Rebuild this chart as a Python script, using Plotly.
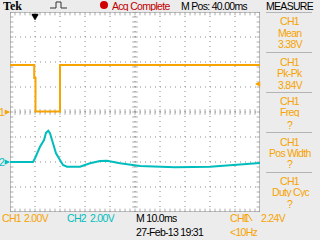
import numpy as np
import plotly.graph_objects as go

# ---- data (time in ms, 10 ms/div; volts) ----
ch1_t = [0, 9.7, 9.7, 10.2, 10.2, 20.0, 20.0, 100]
ch1_v = [3.76, 3.76, 2.72, 2.72, 0.04, 0.04, 3.76, 3.76]

ch2_t = [0, 9.2, 10.0, 12.0, 13.6, 14.4, 15.3, 16.0, 17.2, 18.4, 20.0, 21.2, 22.8,
         28.0, 32.0, 36.0, 38.8, 42.0, 44.0, 52.0, 66.0, 80.0, 88.0, 98.0, 100]
ch2_v = [0.0, 0.0, 0.30, 1.22, 1.76, 2.34, 2.50, 2.30, 1.50, 0.70, 0.16, -0.24, -0.38,
         -0.38, -0.10, 0.08, 0.10, -0.06, -0.10, -0.32, -0.42, -0.38, -0.26, -0.14, -0.08]

trigger_t = 10.0
trigger_level = 2.24

measure_labels = ["Mean", "Pk-Pk", "Freq", "Pos Width", "Duty Cyc"]
measure_values = ["3.38V", "3.84V", "?", "?", "?"]

X_RANGE = [0, 100]     # 10 divisions of 10 ms
Y_RANGE = [-8, 8]      # 8 divisions of 2 V (CH1)
Y2_RANGE = [-4, 12]    # CH2, ground two divisions below centre

ORANGE = "#F7A300"
TEAL = "#00BDBD"
GRID = "#8C8C8C"
BORDER = "#A8A8A8"
BG = "#ECECEC"
FONT = "Liberation Sans, Arial, sans-serif"
FS = 10.5
LS = "-0.7px"

L, R, T, B = 10, 60, 12, 28
W, H = 320, 240
PW, PH = W - L - R, H - T - B


def px(x):
    return (x - L) / PW


def py(y):
    return (H - B - y) / PH


fig = go.Figure()

# ---- graticule drawn as traces on the main axes ----
x_div = list(range(10, 100, 10))
y_div = list(range(-6, 7, 2))
vx, vy, hx, hy = [], [], [], []
for g in x_div:
    vx += [g, g, None]
    vy += [Y_RANGE[0], Y_RANGE[1], None]
for g in y_div:
    hx += [X_RANGE[0], X_RANGE[1], None]
    hy += [g, g, None]
dot = dict(color=GRID, width=1, dash="1px,4px")
fig.add_trace(go.Scatter(x=vx, y=vy, mode="lines", line=dot, hoverinfo="skip"))
fig.add_trace(go.Scatter(x=hx, y=hy, mode="lines", line=dot, hoverinfo="skip"))
fig.add_trace(go.Scatter(x=[0, 100, 100, 0, 0], y=[-8, -8, 8, 8, -8], mode="lines",
                         line=dict(color=BORDER, width=1.5), cliponaxis=False, hoverinfo="skip"))

xt = [float(v) for v in np.arange(0, 100.01, 2)]
yt = [float(v) for v in np.round(np.arange(-8, 8.01, 0.4), 2)]
n, m = len(xt), len(yt)
fig.add_trace(go.Scatter(x=xt * 3, y=[7.9] * n + [-7.9] * n + [0] * n, mode="markers",
                         marker=dict(symbol="line-ns", size=[3] * (2 * n) + [4] * n,
                                     line=dict(width=1, color=GRID)), hoverinfo="skip"))
fig.add_trace(go.Scatter(x=[0.5] * m + [99.5] * m + [50] * m, y=yt * 3, mode="markers",
                         marker=dict(symbol="line-ew", size=[3] * (2 * m) + [4] * m,
                                     line=dict(width=1, color=GRID)), hoverinfo="skip"))

# ---- signals ----
fig.add_trace(go.Scatter(x=ch1_t, y=ch1_v, mode="lines", line=dict(color=ORANGE, width=2), hoverinfo="skip"))
fig.add_trace(go.Scatter(x=ch2_t, y=ch2_v, mode="lines", line=dict(color=TEAL, width=2), yaxis="y2",
                         hoverinfo="skip"))

fig.update_layout(
    width=W, height=H,
    margin=dict(l=L, r=R, t=T, b=B),
    paper_bgcolor=BG, plot_bgcolor="white",
    showlegend=False,
    xaxis=dict(range=X_RANGE, showgrid=False, showline=False, zeroline=False, ticks="",
               showticklabels=False),
    yaxis=dict(range=Y_RANGE, showgrid=False, showline=False, zeroline=False, ticks="",
               showticklabels=False),
    yaxis2=dict(range=Y2_RANGE, overlaying="y", visible=False),
)

ann = []
shapes = []


def text(x, y, s, color="black", size=FS, anchor="left", family=FONT, ls=LS):
    ann.append(dict(x=px(x), y=py(y), xref="paper", yref="paper",
                    text='<span style="letter-spacing:%s">%s</span>' % (ls, s), showarrow=False,
                    xanchor=anchor, yanchor="middle", height=10, borderpad=0,
                    font=dict(family=family, size=size, color=color)))


# top bar
text(2, 6, "<b>Tek</b>", size=12, family="Liberation Serif, DejaVu Serif, serif", ls="0px")
shapes.append(dict(type="path", xref="paper", yref="paper",
                   path="M %f,%f L %f,%f L %f,%f L %f,%f L %f,%f L %f,%f" % (
                       px(50), py(8), px(56), py(8), px(56), py(2), px(61), py(2),
                       px(61), py(8), px(67), py(8)),
                   line=dict(color="#333333", width=1)))
shapes.append(dict(type="circle", xref="paper", yref="paper", x0=px(100), x1=px(108),
                   y0=py(9), y1=py(1), fillcolor="#D00000", line=dict(width=0)))
text(111, 6, "Acq Complete", color="#C00000")
text(180, 6, "M Pos: 40.00ms")
text(290, 6, "MEASURE", anchor="center")

# trigger position marker (top)
shapes.append(dict(type="line", xref="x", yref="paper", x0=trigger_t - 1.3, x1=trigger_t + 1.3,
                   y0=py(14.5), y1=py(14.5), line=dict(color="black", width=1.5)))
shapes.append(dict(type="path", xref="paper", yref="paper",
                   path="M %f,%f L %f,%f L %f,%f Z" % (px(32), py(15), px(38), py(15), px(35), py(20)),
                   fillcolor="black", line=dict(color="black", width=0.5)))

# channel ground markers (left)
for yr, c, lab in (("y", ORANGE, "1"), ("y2", TEAL, "2")):
    ann.append(dict(x=px(2), y=0, xref="paper", yref=yr, text=lab, showarrow=False, xanchor="center",
                    yanchor="middle", height=10, borderpad=0,
                    font=dict(family=FONT, size=FS, color=c)))
    ann.append(dict(x=0, y=0, xref="x", yref=yr, text="", showarrow=True, ax=-5, ay=0,
                    arrowhead=2, arrowsize=0.7, arrowwidth=1.5, arrowcolor=c))
# trigger level marker (right)
ann.append(dict(x=98, y=trigger_level, xref="x", yref="y", text="", showarrow=True, ax=5, ay=0,
                arrowhead=2, arrowsize=0.7, arrowwidth=1.5, arrowcolor=ORANGE))

# measurement panel
rows = [(21, 32, 44), (61, 72, 84), (100.5, 112, 124), (141, 152, 163), (180, 191, 203)]
for (yc, yl, yv), lab, val in zip(rows, measure_labels, measure_values):
    text(290, yc + 0.5, "CH1", color=ORANGE, anchor="center")
    text(290, yl + 0.5, lab, color=ORANGE, anchor="center")
    text(290, yv + 0.5, val, color=ORANGE, anchor="center")
for ys in (12.5, 52.5, 92.5, 132.5, 172.5):
    shapes.append(dict(type="line", xref="paper", yref="paper", x0=px(266), x1=px(312),
                       y0=py(ys), y1=py(ys), line=dict(color="#B4B4B4", width=1)))

# bottom status bar
text(1, 218, "CH1", color=ORANGE)
text(23, 218, "2.00V", color=ORANGE)
text(66, 218, "CH2", color=TEAL)
text(89, 218, "2.00V", color=TEAL)
text(135, 218, "M 10.0ms")
text(135, 232, "27-Feb-13 19:31")
text(229, 218, "CH1", color=ORANGE)
shapes.append(dict(type="path", xref="paper", yref="paper",
                   path="M %f,%f L %f,%f L %f,%f L %f,%f" % (px(245), py(221), px(245), py(214.5),
                                                             px(248), py(214.5), px(252), py(221)),
                   line=dict(color=ORANGE, width=1)))
text(260, 218, "2.24V", color=ORANGE)
text(229, 232, "&lt;10Hz", color=ORANGE)

fig.update_layout(annotations=ann, shapes=shapes)
fig.write_html("out.html")
